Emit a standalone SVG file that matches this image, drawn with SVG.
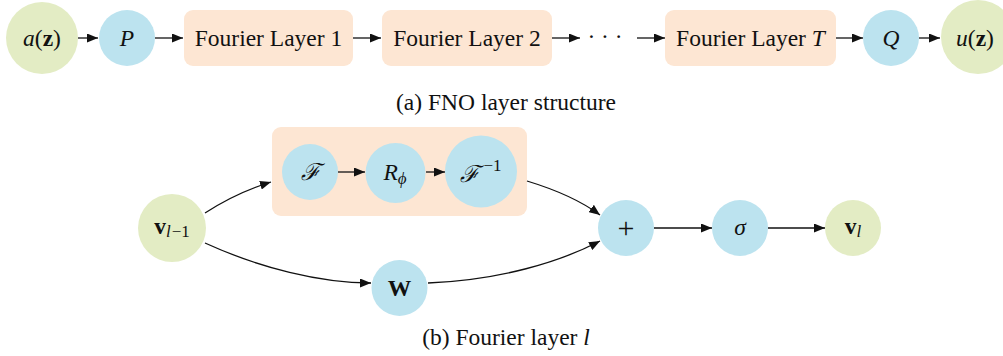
<svg xmlns="http://www.w3.org/2000/svg" width="1003" height="356" viewBox="0 0 1003 356">
<style>
text{font-family:"Liberation Serif","DejaVu Serif",serif;fill:#111;text-anchor:middle}
.lbl{font-size:23.5px}
.cap{font-size:23.5px}
.it{font-style:italic}
.bf{font-weight:bold}
.green{fill:#e3ecc4}
.blue{fill:#bce3ef}
.peach{fill:#fde6d3}
.edge{fill:none;stroke:#111;stroke-width:1.3}
</style>
<defs>
<marker id="ah" viewBox="0 0 11 9" refX="11" refY="4.5" markerWidth="11" markerHeight="9" markerUnits="userSpaceOnUse" orient="auto">
<path d="M0,0 L11,4.5 L0,9 Z" fill="#111"/>
</marker>
</defs>

<!-- (a) top row -->
<g id="a_z"><circle class="green" cx="42" cy="38" r="36"/><text class="lbl" x="42" y="46"><tspan class="it">a</tspan>(<tspan class="bf">z</tspan>)</text></g>
<g id="P"><circle class="blue" cx="127" cy="38" r="28"/><text class="lbl it" x="127" y="46">P</text></g>
<g id="FL1"><rect class="peach" x="184" y="10" width="169" height="56" rx="9"/><text class="lbl" x="268.5" y="46">Fourier Layer 1</text></g>
<g id="FL2"><rect class="peach" x="382" y="10" width="170" height="56" rx="9"/><text class="lbl" x="467" y="46">Fourier Layer 2</text></g>
<g id="dots"><text class="lbl" x="605" y="44">· · ·</text></g>
<g id="FLT"><rect class="peach" x="665" y="10" width="171" height="56" rx="9"/><text class="lbl" x="750.5" y="46">Fourier Layer <tspan class="it">T</tspan></text></g>
<g id="Q"><circle class="blue" cx="891" cy="38" r="28"/><text class="lbl it" x="891" y="46">Q</text></g>
<g id="u_z"><circle class="green" cx="978" cy="37" r="37"/><text class="lbl" x="975" y="46"><tspan class="it">u</tspan>(<tspan class="bf">z</tspan>)</text></g>
<text class="cap" x="506" y="110">(a) FNO layer structure</text>

<!-- (b) Fourier layer -->
<g id="spectral_box"><rect class="peach" x="272" y="127" width="255" height="89" rx="9"/></g>
<g id="v_prev"><circle class="green" cx="172" cy="228" r="34"/><text class="lbl" x="172" y="234"><tspan class="bf">v</tspan><tspan class="it" font-size="17" dy="3">l</tspan><tspan font-size="17" dx="1">−1</tspan></text></g>
<g id="F"><circle class="blue" cx="310" cy="172" r="28"/><text class="lbl it" x="310" y="180">ℱ</text></g>
<g id="R_phi"><circle class="blue" cx="395.5" cy="173" r="30"/><text class="lbl" x="395" y="180"><tspan class="it">R</tspan><tspan class="it" font-size="17" dy="4">ϕ</tspan></text></g>
<g id="F_inv"><circle class="blue" cx="481" cy="171.5" r="36"/><text class="lbl" x="481" y="182"><tspan class="it">ℱ</tspan><tspan font-size="17" dx="4" dy="-11">−1</tspan></text></g>
<g id="W"><circle class="blue" cx="399.5" cy="288" r="28"/><text class="lbl bf" x="399.5" y="296">W</text></g>
<g id="plus"><circle class="blue" cx="626" cy="228" r="28"/><text x="626" y="238" font-size="30">+</text></g>
<g id="sigma"><circle class="blue" cx="740" cy="228" r="28"/><text class="lbl it" x="740" y="235">σ</text></g>
<g id="v_l"><circle class="green" cx="853" cy="228" r="28"/><text class="lbl" x="853" y="234"><tspan class="bf">v</tspan><tspan class="it" font-size="17" dy="3">l</tspan></text></g>
<text class="cap" x="506" y="345">(b) Fourier layer <tspan class="it">l</tspan></text>

<g id="connectors">
<line class="edge" x1="78" y1="38" x2="98" y2="38" marker-end="url(#ah)"/>
<line class="edge" x1="155" y1="38" x2="183" y2="38" marker-end="url(#ah)"/>
<line class="edge" x1="353" y1="38" x2="381" y2="38" marker-end="url(#ah)"/>
<line class="edge" x1="552" y1="38" x2="580" y2="38" marker-end="url(#ah)"/>
<line class="edge" x1="637" y1="38" x2="665" y2="38" marker-end="url(#ah)"/>
<line class="edge" x1="836" y1="38" x2="863" y2="38" marker-end="url(#ah)"/>
<line class="edge" x1="919" y1="38" x2="940" y2="38" marker-end="url(#ah)"/>
<line class="edge" x1="338" y1="172" x2="365" y2="172" marker-end="url(#ah)"/>
<line class="edge" x1="426" y1="172" x2="445" y2="172" marker-end="url(#ah)"/>
<line class="edge" x1="654" y1="228" x2="712" y2="228" marker-end="url(#ah)"/>
<line class="edge" x1="768" y1="228" x2="825" y2="228" marker-end="url(#ah)"/>
<path class="edge" d="M205,213 C225,200 248,189 271,182" marker-end="url(#ah)"/>
<path class="edge" d="M205,243 C260,268 320,283 371,283" marker-end="url(#ah)"/>
<path class="edge" d="M527,181 C550,188 580,200 600,215" marker-end="url(#ah)"/>
<path class="edge" d="M428,283 C500,280 560,262 600,241" marker-end="url(#ah)"/>
</g>
</svg>
